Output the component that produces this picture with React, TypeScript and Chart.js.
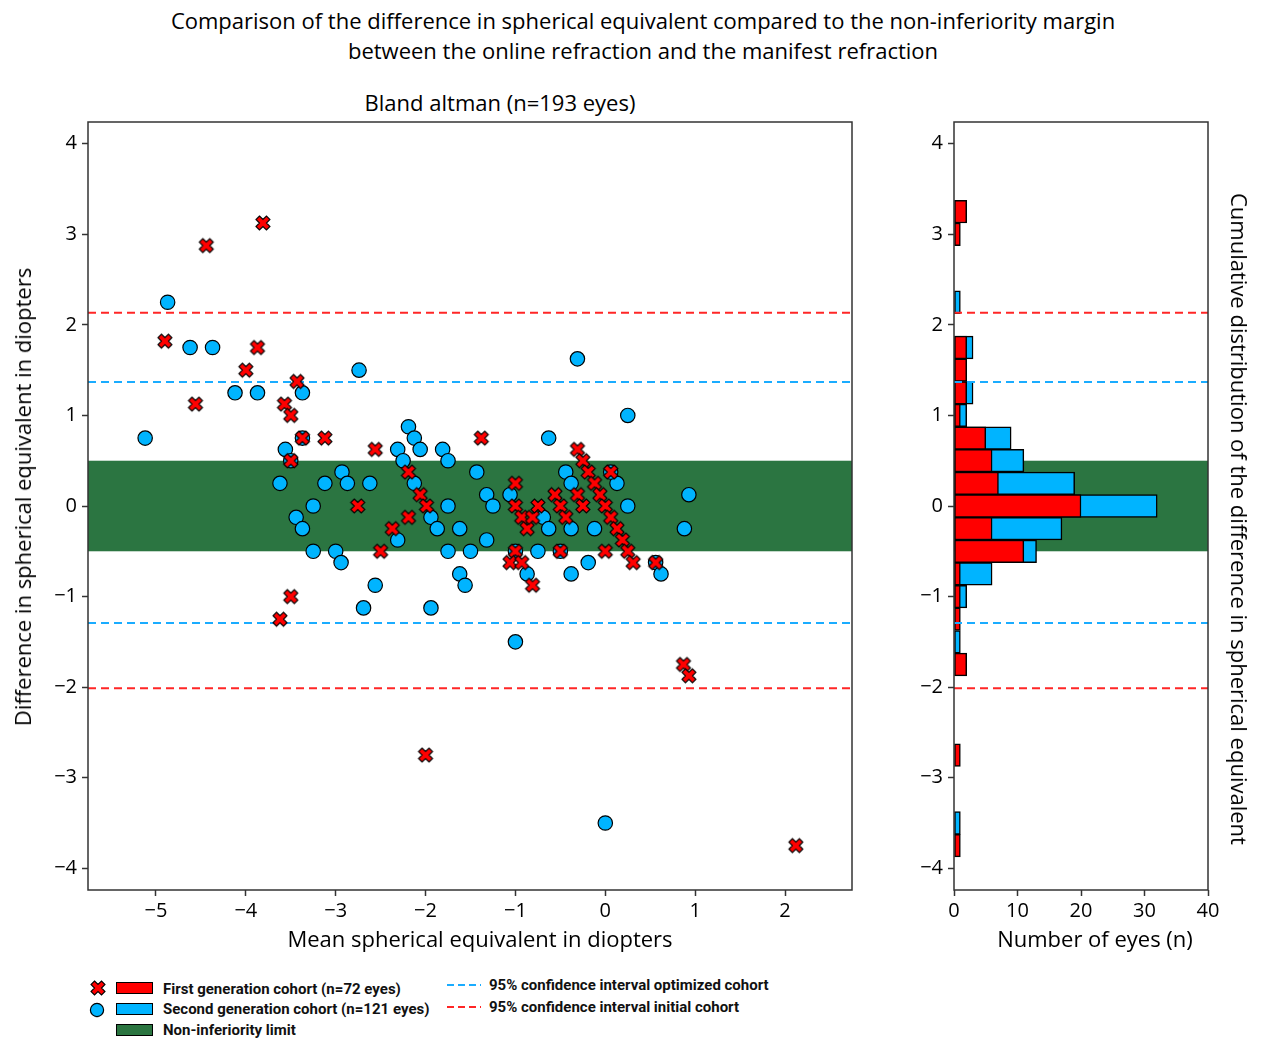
import React, { useEffect, useRef } from "react";
import { Chart, registerables } from "chart.js";

Chart.register(...registerables);

// ---------------- DATA ----------------
// First generation cohort (red X): mean SE (x) and difference (y)
const firstGenMean = [
  -3.81, -4.44, -4.9, -3.87, -4.0, -3.43, -4.56, -3.57, -3.5, -3.37, -3.12, -3.5,
  -2.56, -2.19, -2.06, -1.99, -1.38, -2.755, -2.19, -2.37, -2.5, -3.5, -3.62,
  -1.0, -1.0, -0.93, -0.87, -0.81, -0.75, -1.0, -1.06, -0.93, -0.81,
  -0.56, -0.5, -0.44, -0.5, -0.31, -0.25, -0.31, -0.25, -0.19, -0.12, -0.06,
  0.0, 0.06, 0.13, 0.19, 0.25, 0.31, 0.0, 0.06, 0.56, 0.87, 0.93, -2.0, 2.12,
];
const firstGenDiff = [
  3.125, 2.875, 1.82, 1.75, 1.5, 1.375, 1.125, 1.125, 1.0, 0.75, 0.75, 0.5,
  0.625, 0.375, 0.125, 0.0, 0.75, 0.0, -0.125, -0.25, -0.5, -1.0, -1.25,
  0.25, 0.0, -0.125, -0.25, -0.125, 0.0, -0.5, -0.625, -0.625, -0.875,
  0.125, 0.0, -0.125, -0.5, 0.125, 0.0, 0.625, 0.5, 0.375, 0.25, 0.125,
  0.0, -0.125, -0.25, -0.375, -0.5, -0.625, -0.5, 0.375, -0.625, -1.75, -1.875, -2.75, -3.75,
];

// Second generation cohort (blue circles)
const secondGenMean = [
  -4.87, -4.62, -4.37, -2.74, -4.12, -3.87, -3.37, -5.12, -3.37, -3.56, -2.31,
  -2.19, -2.125, -2.06, -2.25, -2.125, -1.81, -1.75, -3.62, -3.12, -2.93, -2.87,
  -2.62, -1.94, -1.87, -1.43, -0.63, 0.25, -0.31, -3.25, -3.44, -3.37, -2.31,
  -3.25, -3.0, -2.94, -2.56, -2.69, -1.94, -1.75, -1.62, -1.75, -1.5, -1.62,
  -1.56, -1.32, -1.25, -1.32, -1.06, -0.69, -0.63, -1.0, -0.87, -1.0, -0.75,
  -0.38, -0.5, -0.44, -0.38, -0.38, -0.19, -0.12, 0.13, 0.25, 0.56, 0.62,
  0.93, 0.88, 0.0, -3.5, 0.06,
];
const secondGenDiff = [
  2.25, 1.75, 1.75, 1.5, 1.25, 1.25, 1.25, 0.75, 0.75, 0.625, 0.625,
  0.875, 0.75, 0.625, 0.5, 0.25, 0.625, 0.5, 0.25, 0.25, 0.375, 0.25,
  0.25, -0.125, -0.25, 0.375, 0.75, 1.0, 1.625, 0.0, -0.125, -0.25, -0.375,
  -0.5, -0.5, -0.625, -0.875, -1.125, -1.125, 0.0, -0.25, -0.5, -0.5, -0.75,
  -0.875, 0.125, 0.0, -0.375, 0.125, -0.125, -0.25, -0.5, -0.75, -1.5, -0.5,
  -0.25, -0.5, 0.375, 0.25, -0.75, -0.625, -0.25, 0.25, 0.0, -0.625, -0.75,
  0.125, -0.25, -3.5, 0.5, 0.375,
];

// Histogram (bin centres, counts)
const histBins = [3.25, 3.0, 2.25, 1.75, 1.5, 1.25, 1.0, 0.75, 0.5, 0.25, 0.0, -0.25, -0.5, -0.75, -1.0, -1.25, -1.5, -1.75, -2.75, -3.5, -3.75];
const histFirstGen = [2, 1, 0, 2, 2, 2, 1, 5, 6, 7, 20, 6, 11, 1, 1, 1, 0, 2, 1, 0, 1];
const histSecondGen = [0, 0, 1, 3, 1, 3, 2, 9, 11, 19, 32, 17, 13, 6, 2, 0, 1, 0, 0, 1, 0];

// Reference lines
const nonInferiorityLimits = [-0.5, 0.5];
const ciOptimized = [1.37, -1.293];
const ciInitial = [2.133, -2.011];

// Ticks
const mainXTicks = [-5, -4, -3, -2, -1, 0, 1, 2];
const yTicks = [-4, -3, -2, -1, 0, 1, 2, 3, 4];
const histXTicks = [0, 10, 20, 30, 40];

// ---------------- STYLE ----------------
const RED = "#ff0000";
const BLUE = "#00b4ff";
const GREEN = "#2b7541";
const LINE_RED = "#ff2626";
const LINE_BLUE = "#1aacff";
const AXIS = "#333333";
const FONT = "'Open Sans', 'Noto Sans', sans-serif";

const fmt = (v: number) => String(v).replace("-", "\u2212");

function makeXMarker(): HTMLCanvasElement {
  const s = 18;
  const c = document.createElement("canvas");
  c.width = s;
  c.height = s;
  const ctx = c.getContext("2d")!;
  const pts = [
    [-1, -2], [0, -1], [1, -2], [2, -1], [1, 0], [2, 1],
    [1, 2], [0, 1], [-1, 2], [-2, 1], [-1, 0], [-2, -1],
  ];
  const k = 14 / 4;
  ctx.beginPath();
  pts.forEach(([px, py], i) => {
    const x = s / 2 + px * k;
    const y = s / 2 + py * k;
    if (i === 0) ctx.moveTo(x, y);
    else ctx.lineTo(x, y);
  });
  ctx.closePath();
  ctx.fillStyle = RED;
  ctx.fill();
  ctx.lineWidth = 1.1;
  ctx.strokeStyle = "#000";
  ctx.stroke();
  return c;
}

function overlayPlugin(linesOnTop: boolean) {
  const drawLines = (chart: any) => {
    const { ctx, chartArea: a, scales } = chart;
    const y = scales.y;
    ctx.save();
    ctx.lineWidth = 2;
    ctx.setLineDash([8, 5]);
    const lines: [number, string][] = [
      ...ciOptimized.map((v) => [v, LINE_BLUE] as [number, string]),
      ...ciInitial.map((v) => [v, LINE_RED] as [number, string]),
    ];
    lines.forEach(([v, col]) => {
      const py = y.getPixelForValue(v);
      ctx.strokeStyle = col;
      ctx.beginPath();
      ctx.moveTo(a.left, py);
      ctx.lineTo(a.right, py);
      ctx.stroke();
    });
    ctx.restore();
  };
  return {
    id: "overlay" + (linesOnTop ? "Top" : "Below"),
    beforeDatasetsDraw(chart: any) {
      const { ctx, chartArea: a, scales } = chart;
      const y = scales.y;
      const y0 = y.getPixelForValue(nonInferiorityLimits[1]);
      const y1 = y.getPixelForValue(nonInferiorityLimits[0]);
      ctx.save();
      ctx.fillStyle = GREEN;
      ctx.fillRect(a.left, y0, a.right - a.left, y1 - y0);
      ctx.restore();
      if (!linesOnTop) drawLines(chart);
    },
    afterDatasetsDraw(chart: any) {
      if (linesOnTop) drawLines(chart);
      const { ctx, chartArea: a } = chart;
      ctx.save();
      ctx.strokeStyle = AXIS;
      ctx.lineWidth = 1.5;
      ctx.strokeRect(a.left, a.top, a.right - a.left, a.bottom - a.top);
      ctx.restore();
    },
  };
}

const tickFont = { size: 20, family: FONT };

function axisCommon() {
  return {
    offset: false,
    grid: {
      display: true,
      offset: false,
      drawOnChartArea: false,
      drawTicks: true,
      tickLength: 6,
      tickColor: AXIS,
      tickWidth: 1.5,
    },
    border: { display: false },
  };
}

export default function App() {
  const mainRef = useRef<HTMLCanvasElement>(null);
  const histRef = useRef<HTMLCanvasElement>(null);

  useEffect(() => {
    Chart.defaults.font.family = FONT;
    Chart.defaults.color = "#000";
    const xMarker = makeXMarker();

    const main = new Chart(mainRef.current!, {
      type: "scatter",
      data: {
        datasets: [
          {
            label: "First generation",
            data: firstGenMean.map((x, i) => ({ x, y: firstGenDiff[i] })),
            pointStyle: xMarker as any,
            pointRadius: 7,
            backgroundColor: RED,
            borderColor: "#000",
          },
          {
            label: "Second generation",
            data: secondGenMean.map((x, i) => ({ x, y: secondGenDiff[i] })),
            pointStyle: "circle",
            pointRadius: 7.2,
            pointBorderWidth: 1.2,
            backgroundColor: BLUE,
            borderColor: "#000",
          },
        ],
      },
      options: {
        animation: false,
        responsive: false,
        layout: { padding: { top: 42, right: 48, left: 0, bottom: 0 } },
        plugins: { legend: { display: false }, tooltip: { enabled: false } },
        scales: {
          x: {
            type: "linear",
            min: -5.756,
            max: 2.745,
            ...axisCommon(),
            afterBuildTicks: (s: any) => {
              s.ticks = mainXTicks.map((v) => ({ value: v }));
            },
            afterFit: (s: any) => {
              s.height = 70;
            },
            ticks: { font: tickFont, color: "#000", padding: 3, autoSkip: false, maxRotation: 0, callback: (v: any) => fmt(v) },
          },
          y: {
            type: "linear",
            min: -4.24,
            max: 4.24,
            ...axisCommon(),
            afterBuildTicks: (s: any) => {
              s.ticks = yTicks.map((v) => ({ value: v }));
            },
            afterFit: (s: any) => {
              s.width = 88;
            },
            ticks: { font: tickFont, color: "#000", padding: 5, autoSkip: false, callback: (v: any) => fmt(v) },
          },
        },
      },
      plugins: [overlayPlugin(false)],
    } as any);

    const barData = (counts: number[]) =>
      histBins.map((c, i) => ({ x: counts[i], y: c })).filter((p) => p.x > 0);

    const hist = new Chart(histRef.current!, {
      type: "bar",
      data: {
        datasets: [
          {
            label: "First generation",
            data: barData(histFirstGen),
            backgroundColor: RED,
            borderColor: "#000",
            borderWidth: 1.5,
            borderSkipped: false,
            grouped: false,
            barPercentage: 1,
            categoryPercentage: 1,
          },
          {
            label: "Second generation",
            data: barData(histSecondGen),
            backgroundColor: BLUE,
            borderColor: "#000",
            borderWidth: 1.5,
            borderSkipped: false,
            grouped: false,
            barPercentage: 1,
            categoryPercentage: 1,
          },
        ],
      },
      options: {
        indexAxis: "y",
        animation: false,
        responsive: false,
        layout: { padding: { top: 42, right: 55, left: 0, bottom: 0 } },
        plugins: { legend: { display: false }, tooltip: { enabled: false } },
        scales: {
          x: {
            type: "linear",
            min: 0,
            max: 40,
            ...axisCommon(),
            afterBuildTicks: (s: any) => {
              s.ticks = histXTicks.map((v) => ({ value: v }));
            },
            afterFit: (s: any) => {
              s.height = 70;
            },
            ticks: { font: tickFont, color: "#000", padding: 3, autoSkip: false, maxRotation: 0 },
          },
          y: {
            type: "linear",
            min: -4.24,
            max: 4.24,
            ...axisCommon(),
            afterBuildTicks: (s: any) => {
              s.ticks = yTicks.map((v) => ({ value: v }));
            },
            afterFit: (s: any) => {
              s.width = 54;
            },
            ticks: { font: tickFont, color: "#000", padding: 5, autoSkip: false, callback: (v: any) => fmt(v) },
          },
        },
      },
      plugins: [overlayPlugin(true)],
    } as any);

    return () => {
      main.destroy();
      hist.destroy();
    };
  }, []);

  const legendText: React.CSSProperties = {
    position: "absolute",
    fontFamily: "Roboto, 'Open Sans', sans-serif",
    fontWeight: 700,
    fontSize: 15,
    lineHeight: "18px",
    color: "#111",
    whiteSpace: "nowrap",
  };
  const rect = (top: number, bg: string): React.CSSProperties => ({
    position: "absolute",
    left: 116,
    top,
    width: 37,
    height: 12,
    background: bg,
    border: "1.5px solid #000",
    boxSizing: "border-box",
  });
  const axisTitle: React.CSSProperties = {
    position: "absolute",
    fontSize: 22,
    lineHeight: "26px",
    whiteSpace: "nowrap",
  };

  return (
    <div style={{ position: "absolute", left: 0, top: 0, width: 1263, height: 1043, background: "#fff", fontFamily: FONT, color: "#000" }}>
      <div style={{ position: "absolute", left: 643, top: 5, transform: "translateX(-50%)", fontSize: 22, lineHeight: "30px", textAlign: "center", whiteSpace: "nowrap" }}>
        Comparison of the difference in spherical equivalent compared to the non-inferiority margin
        <br />
        between the online refraction and the manifest refraction
      </div>
      <div style={{ ...axisTitle, left: 500, top: 89, transform: "translateX(-50%)" }}>
        Bland altman (n=193 eyes)
      </div>
      <canvas ref={mainRef} width={900} height={880} style={{ position: "absolute", left: 0, top: 80, width: 900, height: 880 }} />
      <canvas ref={histRef} width={363} height={880} style={{ position: "absolute", left: 900, top: 80, width: 363, height: 880 }} />
      <div style={{ ...axisTitle, left: 480, top: 938, transform: "translate(-50%, -50%)" }}>
        Mean spherical equivalent in diopters
      </div>
      <div style={{ ...axisTitle, left: 22, top: 497, transform: "translate(-50%, -50%) rotate(-90deg)" }}>
        Difference in spherical equivalent in diopters
      </div>
      <div style={{ ...axisTitle, left: 1095, top: 938, transform: "translate(-50%, -50%)" }}>
        Number of eyes (n)
      </div>
      <div style={{ ...axisTitle, left: 1240, top: 519, transform: "translate(-50%, -50%) rotate(90deg)" }}>
        Cumulative distribution of the difference in spherical equivalent
      </div>

      {/* Legend */}
      <svg style={{ position: "absolute", left: 89, top: 979 }} width={18} height={18} viewBox="-9 -9 18 18">
        <polygon
          points="-3.5,-7 0,-3.5 3.5,-7 7,-3.5 3.5,0 7,3.5 3.5,7 0,3.5 -3.5,7 -7,3.5 -3.5,0 -7,-3.5"
          fill={RED}
          stroke="#000"
          strokeWidth={1.1}
        />
      </svg>
      <svg style={{ position: "absolute", left: 88, top: 1001 }} width={18} height={18}>
        <circle cx={9} cy={9} r={6.6} fill={BLUE} stroke="#000" strokeWidth={1.2} />
      </svg>
      <div style={rect(982, RED)} />
      <div style={rect(1003, BLUE)} />
      <div style={rect(1024, GREEN)} />
      <div style={{ ...legendText, left: 163, top: 980 }}>First generation cohort (n=72 eyes)</div>
      <div style={{ ...legendText, left: 163, top: 1000 }}>Second generation cohort (n=121 eyes)</div>
      <div style={{ ...legendText, left: 163, top: 1021 }}>Non-inferiority limit</div>
      <svg style={{ position: "absolute", left: 447, top: 980 }} width={34} height={30}>
        <line x1={0} y1={5} x2={34} y2={5} stroke={LINE_BLUE} strokeWidth={2} strokeDasharray="7,4" />
        <line x1={0} y1={27} x2={34} y2={27} stroke={LINE_RED} strokeWidth={2} strokeDasharray="7,4" />
      </svg>
      <div style={{ ...legendText, left: 489, top: 976 }}>95% confidence interval optimized cohort</div>
      <div style={{ ...legendText, left: 489, top: 998 }}>95% confidence interval initial cohort</div>
    </div>
  );
}
